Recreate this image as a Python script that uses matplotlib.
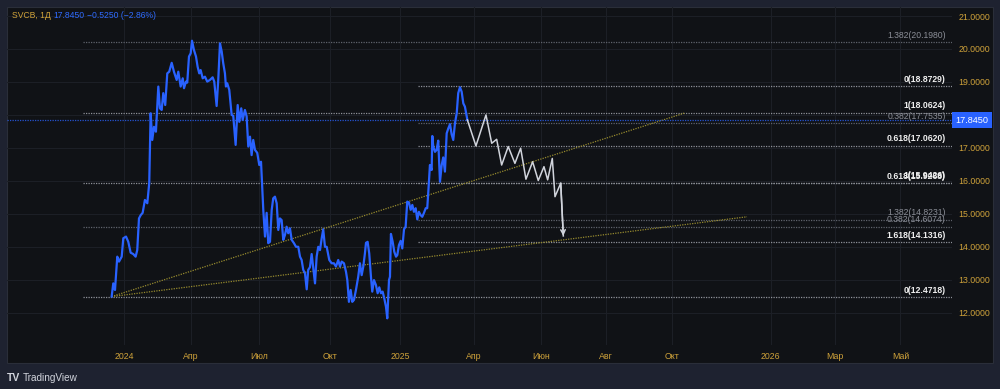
import matplotlib
matplotlib.use('Agg')
import matplotlib.pyplot as plt
from matplotlib.patches import Rectangle

# SVCB daily close, x = bar index (0 = first bar of 2024)
bars = [-11.4, -9.9, -8.3, -6.2, -4.6, -2.1, -0.6, 1.9, 4.0, 6.2, 8.6, 10.8, 12.3, 13.9, 15.5, 17.3,
        19.4, 21.6, 23.4, 24.7, 26.2, 27.8, 29.6, 31.8, 33.3, 34.9, 36.4, 38.2, 40.1, 41.9, 44.2, 46.3,
        48.8, 50.3, 52.5, 54.4, 55.6, 57.4, 58.6, 60.2, 61.8, 63.0, 64.8, 66.7, 68.2, 69.7, 71.0, 72.9,
        75.0, 77.1, 79.6, 82.1, 83.6, 85.8, 87.3, 88.9, 90.5, 91.9, 93.5, 94.4, 95.6, 97.5, 99.7, 101.2,
        103.4, 105.3, 106.8, 108.6, 109.9, 112.0, 113.6, 115.1, 116.7, 118.2, 119.7, 121.3, 123.4, 125.3,
        126.9, 129.0, 130.6, 132.1, 133.6, 135.2, 136.8, 138.2, 139.8, 141.4, 142.9, 144.4, 146.0, 147.5,
        149.1, 150.6, 152.1, 153.7, 155.3, 157.4, 159.3, 161.4, 163.0, 164.5, 166.0, 167.6, 169.2, 170.6,
        172.2, 173.8, 175.3, 176.9, 178.4, 179.9, 181.5, 183.1, 184.5, 186.1, 187.7, 190.1, 192.3, 194.4,
        196.3, 198.4, 200.0, 201.6, 203.7, 205.6, 206.8, 208.3, 209.9, 211.4, 213.0, 214.8, 216.9, 218.5,
        220.1, 221.6, 223.1, 224.1, 225.6, 227.1, 228.7, 229.9, 231.5, 233.3, 234.9, 236.4, 238.0, 239.5,
        241.0, 242.6, 243.8, 245.4, 246.3, 247.2, 248.8, 250.3, 251.9, 253.1, 254.6, 256.2, 257.7, 259.3,
        260.8, 262.3, 263.9, 265.5, 267.0, 268.5, 270.1, 271.6, 273.1, 274.7, 276.2, 277.8, 279.4, 280.8,
        282.1, 283.3, 284.9, 285.5, 286.4, 288.0, 289.5, 291.0, 292.6, 294.2, 295.6, 297.2, 298.8, 300.3,
        301.9, 303.4, 304.9, 306.5, 308.1, 309.5, 311.1, 312.7, 314.2, 315.7, 318.0]
close = [12.49, 12.89, 12.69, 13.70, 13.55, 13.70, 14.26, 14.31, 14.15, 13.82, 13.78, 13.70, 13.90, 14.86, 14.96, 15.03,
         15.42, 15.32, 15.93, 18.05, 17.24, 17.64, 17.49, 18.86, 18.20, 18.15, 18.66, 18.30, 19.26, 19.31, 19.58, 19.31,
         19.06, 19.31, 18.86, 19.11, 18.81, 19.01, 18.98, 19.77, 19.87, 20.25, 19.97, 19.77, 19.46, 19.26, 19.36, 19.11,
         19.16, 19.01, 19.06, 19.14, 19.01, 18.27, 19.06, 20.17, 19.92, 19.57, 19.26, 18.86, 18.96, 18.76, 18.00, 17.97,
         17.09, 18.30, 17.79, 18.20, 17.85, 18.15, 17.95, 17.04, 17.34, 16.78, 17.24, 16.94, 16.85, 16.48,
         16.58, 15.12, 14.31, 15.03, 14.11, 14.15, 15.12, 15.47, 15.52, 15.32, 14.51, 14.86, 14.81, 14.21,
         14.36, 14.61, 14.41, 14.56, 14.21, 14.11, 14.00, 14.00, 13.70, 13.60, 13.30, 13.20, 12.71, 13.30,
         13.38, 13.78, 13.35, 12.89, 13.70, 14.00, 13.90, 14.26, 14.53, 14.00, 14.00, 13.60, 13.50, 13.50,
         13.40, 13.60, 13.40, 13.55, 13.50, 13.24, 12.99, 12.33, 12.69, 12.33, 12.39, 12.69, 13.09, 13.50,
         13.14, 13.40, 13.80, 14.12, 14.15, 13.80, 13.09, 12.64, 12.99, 12.84, 12.59, 12.77, 12.59, 12.64,
         12.44, 12.18, 11.83, 12.99, 13.09, 14.39, 14.15, 13.85, 13.70, 13.75, 14.05, 14.18, 13.95, 14.53,
         14.61, 15.37, 15.34, 15.12, 15.27, 15.06, 15.17, 14.83, 15.06, 14.96, 14.91, 15.03, 15.17, 15.17,
         15.82, 16.48, 16.33, 17.36, 17.04, 16.88, 16.94, 17.22, 15.97, 16.48, 16.71, 16.28, 17.44, 17.59,
         17.72, 17.41, 17.24, 17.75, 18.05, 18.66, 18.84, 18.70, 18.35, 18.25, 17.845]

# projected path (white zigzag)
proj_bars = [318.0, 325.9, 335.2, 340.5, 345.1, 349.7, 355.8, 362.0, 367.3, 372.2, 378.4, 383.6,
             388.9, 392.3, 396.6, 399.1, 404.4, 406.8]
proj_price = [17.845, 17.06, 18.00, 17.14, 17.26, 16.48, 17.04, 16.53, 16.99, 16.05, 16.58, 16.01,
              16.43, 16.03, 16.68, 15.52, 15.93, 14.33]

# trend lines: start point and two end points
trend_start = (-11.4, 12.49)
trend_ends = [(519.4, 18.06), (576.9, 14.91)]

# fibonacci sets
fib_a_start = -38
fib_a_ratio = ['1.382', '1', '0.618', '0.382', '0']
fib_a_value = [20.1980, 18.0624, 15.9268, 14.6074, 12.4718]
fib_b_start = 272
fib_b_ratio = ['0', '0.382', '0.618', '1', '1.382', '1.618']
fib_b_value = [18.8729, 17.7535, 17.0620, 15.9426, 14.8231, 14.1316]

last_price = 17.845
y_ticks = [12, 13, 14, 15, 16, 17, 18, 19, 20, 21]
x_tick_pos = [0, 62, 125, 191, 256, 324, 386, 446, 507, 599, 658, 719]
x_tick_lab = ['2024', 'Апр', 'Июл', 'Окт', '2025', 'Апр', 'Июн', 'Авг', 'Окт', '2026', 'Мар', 'Май']

OUTER = '#1e2230'
PANE = '#101216'
GRID = '#1c1f26'
GOLD = '#cfa23a'
BLUE = '#2962ff'
plt.rcParams['font.family'] = ['Liberation Sans', 'DejaVu Sans']

fig = plt.figure(figsize=(10, 3.89), dpi=100, facecolor=OUTER)
W, H = 1000.0, 389.0
fig.patches.append(Rectangle((7 / W, 1 - 363 / H), 986 / W, 356 / H, transform=fig.transFigure,
                             facecolor=PANE, edgecolor='#2a2e39', lw=0.8, zorder=-5))
ax = fig.add_axes([7 / W, 1 - 345 / H, 945 / W, 338 / H])
ax.set_zorder(2)
ax.patch.set_alpha(0)
for s in ax.spines.values():
    s.set_visible(False)

ax.set_xlim(-108.3, 766.7)
ax.set_ylim(11.021, 21.273)

for p in y_ticks:
    ax.axhline(p, color=GRID, lw=0.8, zorder=1)
for b in x_tick_pos:
    ax.axvline(b, color=GRID, lw=0.8, zorder=1)

ax.set_xticks(x_tick_pos)
ax.set_xticklabels(x_tick_lab)
ax.tick_params(axis='x', length=0, pad=5, colors=GOLD, labelsize=6.3)
ax.set_yticks(y_ticks)
ax.set_yticklabels(['%.4f' % v for v in y_ticks])
ax.yaxis.tick_right()
ax.tick_params(axis='y', length=0, pad=4.5, colors=GOLD, labelsize=6.3)

dim = ('0.382', '1.382')


def draw_fib(start, ratios, values):
    for r, v in zip(ratios, values):
        faint = r in dim
        ax.plot([start, 766.7], [v, v], color='#5f626c' if faint else '#8e9199', lw=0.9,
                ls=(0, (1, 1)), zorder=2)
        ax.annotate('%s(%.4f)' % (r, v), xy=(761, v), xytext=(0, 1.8), textcoords='offset points',
                    ha='right', va='bottom', fontsize=6.2, color='#8b8e97' if faint else '#f0f0f0',
                    fontweight='normal' if faint else 'bold', zorder=5)


draw_fib(fib_a_start, fib_a_ratio, fib_a_value)
draw_fib(fib_b_start, fib_b_ratio, fib_b_value)

for e in trend_ends:
    ax.plot([trend_start[0], e[0]], [trend_start[1], e[1]], color='#968a2e', lw=0.9,
            ls=(0, (1, 1)), zorder=3)

ax.axhline(last_price, color=BLUE, lw=0.9, ls=(0, (1, 1)), alpha=0.8, zorder=3)

ax.plot(bars, close, color=BLUE, lw=1.6, zorder=4)
ax.plot(proj_bars, proj_price, color='#d1d4dc', lw=1.1, zorder=4)
ax.annotate('', xy=(proj_bars[-1], proj_price[-1]), xytext=(proj_bars[-2], proj_price[-2]),
            arrowprops=dict(arrowstyle='->', color='#d1d4dc', lw=1.1, mutation_scale=8,
                            shrinkA=0, shrinkB=0), zorder=4)

# last price tag on the price scale
ax.annotate('%.4f' % last_price, xy=(1, last_price), xycoords=('axes fraction', 'data'),
            xytext=(2.5, 0), textcoords='offset points', ha='left', va='center',
            fontsize=6.6, color='white', annotation_clip=False,
            bbox=dict(boxstyle='square,pad=0.35', fc=BLUE, ec='none'), zorder=10)

# header
fig.text(12 / W, 1 - 16 / H, 'SVCB, 1Д', color=GOLD, fontsize=6.2, va='center', ha='left')
fig.text(53 / W, 1 - 16 / H, '17.8450', color='#2f6bff', fontsize=6.2, va='center', ha='left')
fig.text(87 / W, 1 - 16 / H, '−0.5250 (−2.86%)', color='#2f6bff', fontsize=6.2, va='center', ha='left')

# footer logo
fig.text(7 / W, 1 - 378 / H, 'TV', color='#d1d4dc', fontsize=7.5, fontweight='bold', va='center', ha='left')
fig.text(23 / W, 1 - 378 / H, 'TradingView', color='#d1d4dc', fontsize=7.2, va='center', ha='left')

fig.savefig('out.png', dpi=100, facecolor=OUTER)
